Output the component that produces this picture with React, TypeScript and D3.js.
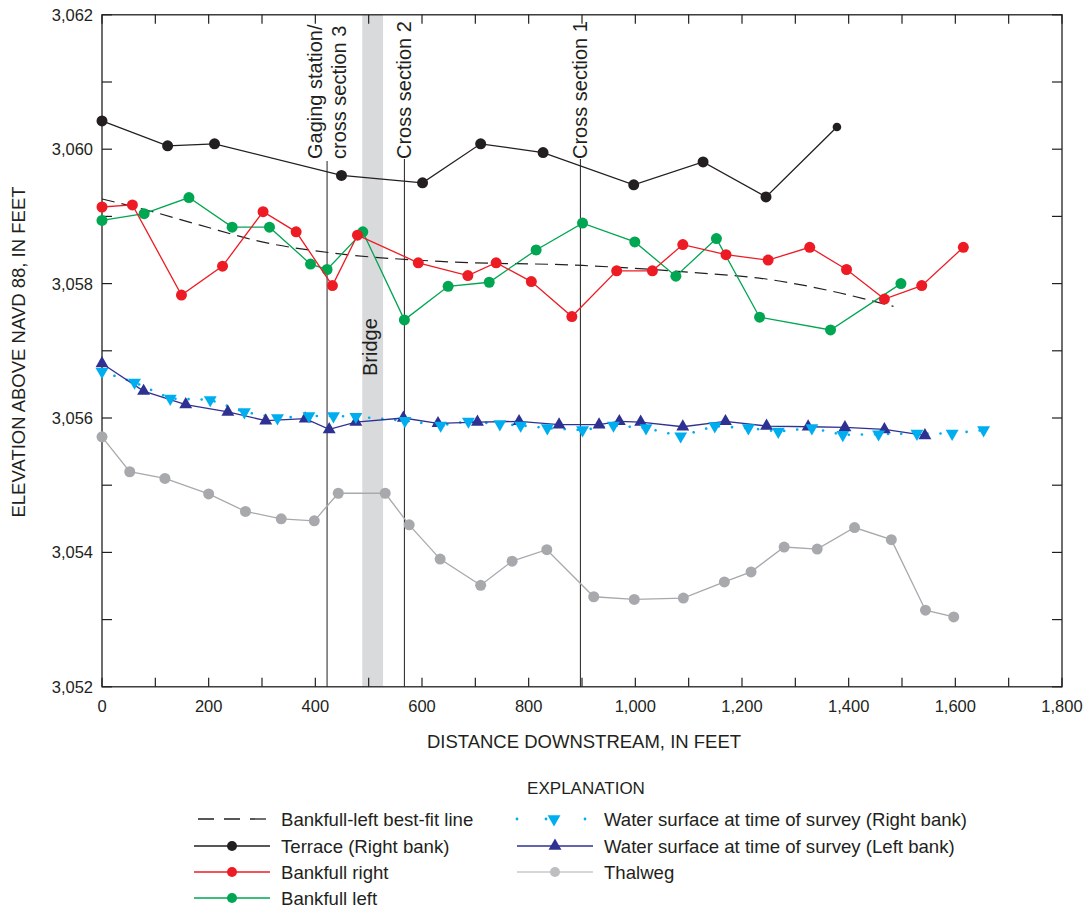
import React from "react";
import * as d3 from "d3";

// distance downstream (ft), elevation (ft above NAVD 88)
const terrace: [number, number][] = [
  [0, 3060.42], [123, 3060.05], [211, 3060.08], [449, 3059.61], [601, 3059.5],
  [710, 3060.08], [827, 3059.95], [997, 3059.47], [1127, 3059.81], [1245, 3059.29],
  [1378, 3060.33],
];

const bankfullRight: [number, number][] = [
  [0, 3059.14], [57, 3059.17], [149, 3057.83], [226, 3058.26], [302, 3059.07],
  [364, 3058.77], [432, 3057.97], [479, 3058.72], [593, 3058.31], [686, 3058.12],
  [739, 3058.31], [805, 3058.03], [881, 3057.51], [965, 3058.19], [1032, 3058.19],
  [1089, 3058.58], [1170, 3058.43], [1249, 3058.35], [1327, 3058.54], [1396, 3058.21],
  [1467, 3057.77], [1537, 3057.97], [1615, 3058.54],
];

const bankfullLeft: [number, number][] = [
  [0, 3058.94], [79, 3059.04], [163, 3059.28], [244, 3058.84], [314, 3058.84],
  [391, 3058.29], [422, 3058.21], [489, 3058.77], [567, 3057.46], [649, 3057.96],
  [726, 3058.02], [814, 3058.5], [901, 3058.9], [999, 3058.62], [1076, 3058.11],
  [1152, 3058.67], [1233, 3057.5], [1366, 3057.31], [1498, 3058.0],
];

const bestFit: [number, number][] = [
  [0, 3059.26], [90, 3059.08], [184, 3058.87], [300, 3058.62], [427, 3058.46],
  [634, 3058.33], [901, 3058.27], [1100, 3058.17], [1252, 3058.06], [1384, 3057.86],
  [1484, 3057.66],
];

const waterLeft: [number, number][] = [
  [0, 3056.81], [78, 3056.4], [157, 3056.2], [236, 3056.09], [307, 3055.96],
  [381, 3055.99], [426, 3055.83], [476, 3055.94], [565, 3056.0], [630, 3055.92],
  [704, 3055.94], [782, 3055.95], [857, 3055.9], [932, 3055.9], [970, 3055.95],
  [1010, 3055.94], [1089, 3055.87], [1169, 3055.95], [1246, 3055.88], [1324, 3055.87],
  [1393, 3055.86], [1467, 3055.83], [1543, 3055.74],
];

const waterRight: [number, number][] = [
  [0, 3056.69], [61, 3056.53], [128, 3056.29], [203, 3056.27], [267, 3056.09],
  [329, 3056.0], [388, 3056.03], [434, 3056.03], [476, 3056.02], [568, 3055.96],
  [635, 3055.89], [687, 3055.95], [746, 3055.91], [785, 3055.89], [835, 3055.85],
  [901, 3055.82], [959, 3055.89], [1020, 3055.85], [1085, 3055.73], [1149, 3055.88],
  [1212, 3055.85], [1268, 3055.8], [1331, 3055.85], [1389, 3055.75], [1456, 3055.76],
  [1528, 3055.77], [1594, 3055.77], [1653, 3055.82],
];

const thalweg: [number, number][] = [
  [0, 3055.72], [52, 3055.2], [118, 3055.1], [200, 3054.87], [269, 3054.61],
  [336, 3054.5], [398, 3054.47], [443, 3054.88], [531, 3054.88], [576, 3054.41],
  [634, 3053.9], [710, 3053.51], [769, 3053.87], [834, 3054.04], [922, 3053.34],
  [998, 3053.3], [1090, 3053.32], [1167, 3053.56], [1217, 3053.71], [1279, 3054.08],
  [1341, 3054.05], [1411, 3054.37], [1480, 3054.19], [1544, 3053.14], [1597, 3053.04],
];

const crossSections = [
  { dist: 422, lines: ["Gaging station/", "cross section 3"] },
  { dist: 567, lines: ["Cross section 2"] },
  { dist: 897, lines: ["Cross section 1"] },
];
const bridgeSpan: [number, number] = [488, 527];

const xTicksMajor = [0, 200, 400, 600, 800, 1000, 1200, 1400, 1600, 1800];
const yTicksMajor = [3052, 3054, 3056, 3058, 3060, 3062];

const C = {
  black: "#231f20",
  red: "#ed1c24",
  green: "#00a651",
  navy: "#2e3192",
  cyan: "#00aeef",
  gray: "#a7a9ac",
  bridge: "#d9dadc",
};

const FONT = "Liberation Sans, Arial, Helvetica, sans-serif";
const INK = "#231f20";

export default function App() {
  const width = 1086;
  const height = 914;
  const left = 102, right = 1062, top = 14.8, bottom = 686.8;

  const x = d3.scaleLinear().domain([0, 1800]).range([left, right]);
  const y = d3.scaleLinear().domain([3052, 3062]).range([bottom, top]);

  const line = d3.line<[number, number]>().x(d => x(d[0])).y(d => y(d[1]));
  const fitLine = d3.line<[number, number]>().x(d => x(d[0])).y(d => y(d[1])).curve(d3.curveMonotoneX);

  const fmt = d3.format(",");
  const tri = d3.symbol().type(d3.symbolTriangle).size(72)() || "";

  const xMinor = d3.range(0, 1801, 100);
  const yMinor = d3.range(3052, 3063, 1);

  const dots = (data: [number, number][], color: string, r: number, lastR?: number) =>
    data.map((d, i) => (
      <circle key={i} cx={x(d[0])} cy={y(d[1])} r={lastR && i === data.length - 1 ? lastR : r} fill={color} />
    ));

  // legend layout
  const legRows = [819, 846, 872, 898];
  const lx0 = 194, lx1 = 270, ltx = 281;
  const rx0 = 517, rx1 = 593, rtx = 604;
  const LF = 18.6;

  return (
    <svg width={width} height={height} style={{ position: "absolute", left: 0, top: 0, background: "#fff" }}
      fontFamily={FONT}>
      {/* bridge band */}
      <rect x={x(bridgeSpan[0])} y={top} width={x(bridgeSpan[1]) - x(bridgeSpan[0])} height={bottom - top} fill={C.bridge} />
      <text transform={`translate(${x(bridgeSpan[0]) + 15},376) rotate(-90)`} fontSize={20} fill={INK}>Bridge</text>

      {/* cross-section lines */}
      {crossSections.map((c, i) => (
        <g key={i}>
          <line x1={x(c.dist)} x2={x(c.dist)} y1={c.lines.length > 1 ? 161 : 159} y2={bottom} stroke={C.black} strokeWidth={1} />
          {c.lines.map((t, j) => (
            <text key={j}
              transform={`translate(${x(c.dist) + (c.lines.length > 1 ? (j === 0 ? -5.5 : 18.5) : 6.5)},159) rotate(-90)`}
              fontSize={20} fill={INK}>{t}</text>
          ))}
        </g>
      ))}

      {/* axes frame */}
      <rect x={left} y={top} width={right - left} height={bottom - top} fill="none" stroke={C.black} strokeWidth={1.3} />
      {xMinor.map(v => (
        <g key={"xt" + v}>
          <line x1={x(v)} x2={x(v)} y1={bottom} y2={bottom - 9} stroke={C.black} strokeWidth={1.2} />
          <line x1={x(v)} x2={x(v)} y1={top} y2={top + 9} stroke={C.black} strokeWidth={1.2} />
        </g>
      ))}
      {yMinor.map(v => (
        <g key={"yt" + v}>
          <line x1={left} x2={left + 10} y1={y(v)} y2={y(v)} stroke={C.black} strokeWidth={1.2} />
          <line x1={right} x2={right - 10} y1={y(v)} y2={y(v)} stroke={C.black} strokeWidth={1.2} />
        </g>
      ))}
      {xTicksMajor.map(v => (
        <text key={"xl" + v} x={x(v)} y={712} textAnchor="middle" fontSize={16.5} fill={INK}>{fmt(v)}</text>
      ))}
      {yTicksMajor.map(v => (
        <text key={"yl" + v} x={93} y={y(v) + 6} textAnchor="end" fontSize={16.5} fill={INK}>{fmt(v)}</text>
      ))}
      <text x={584} y={748} textAnchor="middle" fontSize={18.5} fill={INK}>DISTANCE DOWNSTREAM, IN FEET</text>
      <text transform={`translate(25,352) rotate(-90)`} textAnchor="middle" fontSize={18.5} fill={INK}>
        ELEVATION ABOVE NAVD 88, IN FEET
      </text>

      {/* series */}
      <path d={fitLine(bestFit) || ""} fill="none" stroke={C.black} strokeWidth={1.2} strokeDasharray="13,7" />
      <path d={line(thalweg) || ""} fill="none" stroke={C.gray} strokeWidth={1.3} />
      {dots(thalweg, C.gray, 5.5)}
      <path d={line(waterRight) || ""} fill="none" stroke={C.cyan} strokeWidth={2.6} strokeDasharray="0.1,13" strokeLinecap="round" />
      <path d={line(waterLeft) || ""} fill="none" stroke={C.navy} strokeWidth={1.3} />
      {waterLeft.map((d, i) => (
        <path key={"wl" + i} d={tri} transform={`translate(${x(d[0])},${y(d[1])})`} fill={C.navy} />
      ))}
      {waterRight.map((d, i) => (
        <path key={"wr" + i} d={tri} transform={`translate(${x(d[0])},${y(d[1])}) rotate(180)`} fill={C.cyan} />
      ))}
      <path d={line(terrace) || ""} fill="none" stroke={C.black} strokeWidth={1.3} />
      {dots(terrace, C.black, 5.5, 4.3)}
      <path d={line(bankfullLeft) || ""} fill="none" stroke={C.green} strokeWidth={1.3} />
      {dots(bankfullLeft, C.green, 5.5)}
      <path d={line(bankfullRight) || ""} fill="none" stroke={C.red} strokeWidth={1.3} />
      {dots(bankfullRight, C.red, 5.5)}

      {/* legend */}
      <text x={586} y={794} textAnchor="middle" fontSize={17} fill={INK}>EXPLANATION</text>

      <line x1={lx0 + 4} x2={lx1} y1={legRows[0]} y2={legRows[0]} stroke={C.black} strokeWidth={1.3} strokeDasharray="16,10" />
      <text x={ltx} y={legRows[0] + 6.5} fontSize={LF} fill={INK}>Bankfull-left best-fit line</text>

      <line x1={lx0} x2={lx1} y1={legRows[1]} y2={legRows[1]} stroke={C.black} strokeWidth={1.3} />
      <circle cx={232} cy={legRows[1]} r={5} fill={C.black} />
      <text x={ltx} y={legRows[1] + 6.5} fontSize={LF} fill={INK}>Terrace (Right bank)</text>

      <line x1={lx0} x2={lx1} y1={legRows[2]} y2={legRows[2]} stroke={C.red} strokeWidth={1.3} />
      <circle cx={232} cy={legRows[2]} r={5} fill={C.red} />
      <text x={ltx} y={legRows[2] + 6.5} fontSize={LF} fill={INK}>Bankfull right</text>

      <line x1={lx0} x2={lx1} y1={legRows[3]} y2={legRows[3]} stroke={C.green} strokeWidth={1.3} />
      <circle cx={232} cy={legRows[3]} r={5} fill={C.green} />
      <text x={ltx} y={legRows[3] + 6.5} fontSize={LF} fill={INK}>Bankfull left</text>

      {[517, 546, 585].map((px, i) => (
        <circle key={"ld" + i} cx={px} cy={legRows[0]} r={1.4} fill={C.cyan} />
      ))}
      <path d={tri} transform={`translate(554,${legRows[0]}) rotate(180)`} fill={C.cyan} />
      <text x={rtx} y={legRows[0] + 6.5} fontSize={LF} fill={INK}>Water surface at time of survey (Right bank)</text>

      <line x1={rx0} x2={rx1} y1={legRows[1]} y2={legRows[1]} stroke={C.navy} strokeWidth={1.3} />
      <path d={tri} transform={`translate(555,${legRows[1]})`} fill={C.navy} />
      <text x={rtx} y={legRows[1] + 6.5} fontSize={LF} fill={INK}>Water surface at time of survey (Left bank)</text>

      <line x1={rx0} x2={rx1} y1={legRows[2]} y2={legRows[2]} stroke="#c7c8ca" strokeWidth={1.3} />
      <circle cx={555} cy={legRows[2]} r={5} fill="#bcbec0" />
      <text x={rtx} y={legRows[2] + 6.5} fontSize={LF} fill={INK}>Thalweg</text>
    </svg>
  );
}
